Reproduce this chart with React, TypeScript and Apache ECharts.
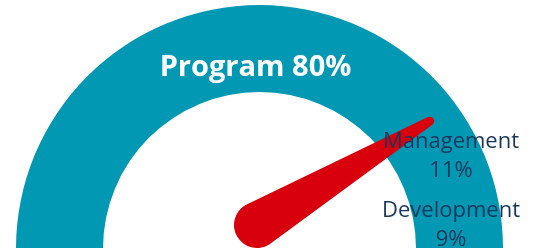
import React, { useEffect, useRef } from "react";
import * as echarts from "echarts";

const categories = ["Program", "Management", "Development"];
const values = [80, 11, 9];

const TEAL = "#0098B2";
const RED = "#D9000D";
const NAVY = "#17365D";

export default function App() {
  const ref = useRef<HTMLDivElement>(null);
  useEffect(() => {
    if (!ref.current) return;
    const chart = echarts.init(ref.current, null, { renderer: "svg" });
    const needle =
      "path://M18.5 4.5 A4.5 4.5 0 0 1 27.5 4.5 L46 206 A23 23 0 0 1 0 206 Z";
    chart.setOption({
      animation: false,
      series: [
        {
          type: "gauge",
          center: [259.5, 248.5],
          radius: 243.5,
          startAngle: 180,
          endAngle: 0,
          min: 0,
          max: 100,
          axisLine: { lineStyle: { width: 87, color: [[1, TEAL]] } },
          splitLine: { show: false },
          axisTick: { show: false },
          axisLabel: { show: false },
          pointer: { show: false },
          anchor: { show: false },
          title: { show: false },
          detail: {
            formatter: (v: number) => `${categories[0]} ${v}%`,
            color: "#ffffff",
            fontSize: 29,
            fontWeight: "bold",
            fontFamily: "Open Sans",
            offsetCenter: [-4, -184],
          },
          data: [{ value: values[0], name: categories[0] }],
        },
        {
          type: "gauge",
          center: [257, 225],
          radius: 200,
          startAngle: 175,
          endAngle: -5,
          min: 0,
          max: 100,
          axisLine: { show: false },
          splitLine: { show: false },
          axisTick: { show: false },
          axisLabel: { show: false },
          anchor: { show: false },
          title: { show: false },
          detail: { show: false },
          pointer: {
            icon: needle,
            length: 229,
            width: 46,
            offsetCenter: [0, 23],
            keepAspect: false,
            itemStyle: { color: RED },
          },
          data: [{ value: values[0], name: categories[0] }],
        },
      ],
      graphic: categories.slice(1).map((c, i) => ({
        type: "text",
        x: 451,
        y: [124, 193][i],
        z: 100,
        style: {
          text: `${c}\n${values[i + 1]}%`,
          fill: NAVY,
          fontSize: 22,
          fontFamily: "Open Sans",
          align: "center",
          verticalAlign: "top",
          lineHeight: 29,
        },
      })),
    });
    return () => chart.dispose();
  }, []);
  return (
    <div
      ref={ref}
      style={{ position: "fixed", left: 0, top: 0, width: 536, height: 248 }}
    />
  );
}
